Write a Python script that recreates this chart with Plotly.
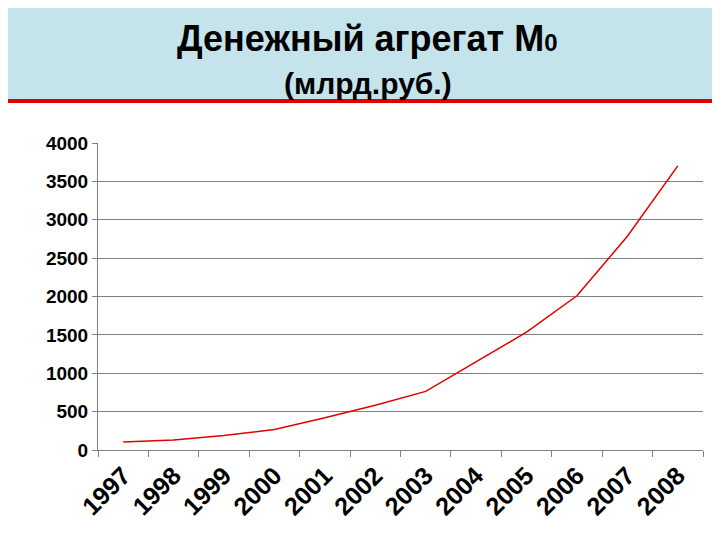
import plotly.graph_objects as go

years = ["1997","1998","1999","2000","2001","2002","2003","2004","2005","2006","2007","2008"]
m0 = [103.8,130.5,187.8,266.1,419.3,583.8,763.2,1147.0,1534.8,2009.2,2785.2,3702.2]
yticks = [0,500,1000,1500,2000,2500,3000,3500,4000]

fig = go.Figure(go.Scatter(x=years, y=m0, mode="lines", line=dict(color="#e00000", width=1.5)))
fig.update_layout(
    width=720, height=540, paper_bgcolor="white", plot_bgcolor="white",
    margin=dict(l=90, r=25, t=135, b=98, autoexpand=False), showlegend=False,
    font=dict(family="Liberation Sans, Arial", color="black"),
    shapes=[
        dict(type="rect", xref="paper", yref="paper", x0=-0.2, x1=1.1, y0=1.137, y1=1.5,
             fillcolor="#c5e3ea", line_width=0, layer="below"),
        dict(type="line", xref="paper", yref="paper", x0=-0.2, x1=1.1, y0=1.137, y1=1.137,
             line=dict(color="#e00000", width=4)),
    ],
    annotations=[
        dict(text="<b>Денежный агрегат М</b><span style='font-size:24px'><b>0</b></span>", xref="paper", yref="paper",
             x=0.446, y=1.342, xanchor="center", yanchor="middle", showarrow=False, font=dict(size=36)),
        dict(text="<b>(млрд.руб.)</b>", xref="paper", yref="paper", x=0.446, y=1.195,
             xanchor="center", yanchor="middle", showarrow=False, font=dict(size=30)),
    ],
)
fig.update_xaxes(type="category", range=[-0.5, 11.5], tickangle=-45,
                 tickfont=dict(size=25, family="Liberation Sans, Arial", weight="bold"),
                 showline=True, linecolor="#808080", automargin=False,
                 ticks="outside", tickson="boundaries", ticklen=6, tickcolor="#808080", showgrid=False)
fig.update_yaxes(range=[0,4000], tickvals=yticks, automargin=False,
                 tickfont=dict(size=19, weight="bold"), showgrid=True, gridcolor="#808080", gridwidth=1,
                 showline=True, linecolor="#808080", ticks="outside", ticklen=5, tickcolor="#808080",
                 zeroline=False)
fig.write_html("out.html")
